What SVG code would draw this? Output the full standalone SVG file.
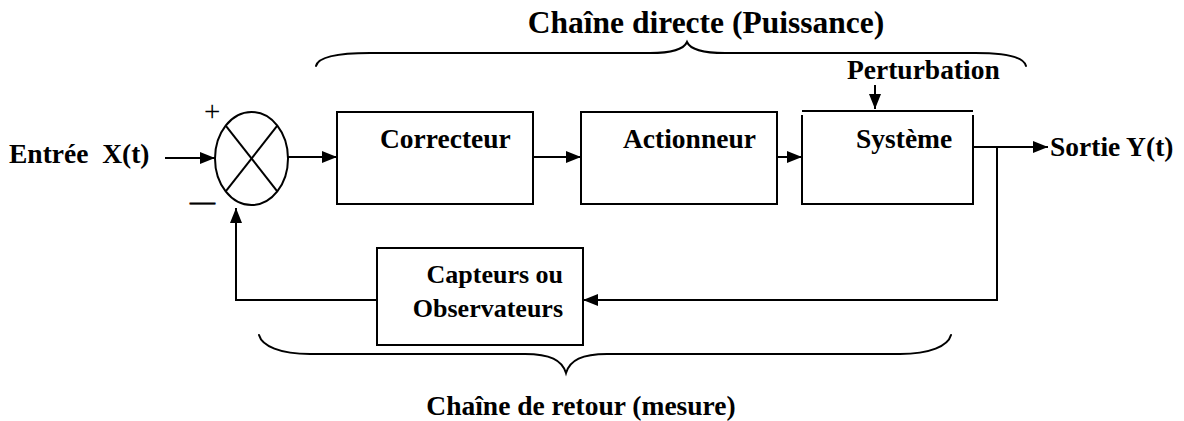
<svg xmlns="http://www.w3.org/2000/svg" width="1184" height="421" viewBox="0 0 1184 421">
  <style>
    .box { fill: #ffffff; stroke: #000000; stroke-width: 2; }
    .wire { fill: none; stroke: #000000; stroke-width: 2; }
    .brace { fill: none; stroke: #000000; stroke-width: 2; stroke-linecap: round; }
    .lbl { font-family: "Liberation Serif", "Times New Roman", serif; font-weight: bold; font-size: 27.5px; fill: #000000; }
    .sign { font-family: "Liberation Serif", "Times New Roman", serif; font-weight: normal; fill: #000000; }
  </style>
  <defs>
    <marker id="arrow" viewBox="0 0 15 12" refX="15" refY="6" markerWidth="15" markerHeight="12" markerUnits="userSpaceOnUse" orient="auto">
      <path d="M0,0 L15,6 L0,12 z" fill="#000000"/>
    </marker>
  </defs>

  <rect width="1184" height="421" fill="#ffffff"/>

  <!-- braces and their captions -->
  <g id="chaine-directe">
    <path class="brace" d="M316,66 C318,57 336,53 370,53 L650,53 C673,53 684,49 687,42 C690,49 701,53 725,53 L975,53 C1010,53 1024,58 1026,66"/>
    <text class="lbl" x="706" y="33" text-anchor="middle" style="font-size:31.5px">Chaîne directe (Puissance)</text>
  </g>
  <g id="chaine-retour">
    <path class="brace" d="M259,335 C262,346 280,354 310,354 L525,354 C550,354 562,360 566,373 C570,360 582,354 607,354 L900,354 C930,354 948,346 951,335"/>
    <text class="lbl" x="581" y="415" text-anchor="middle">Chaîne de retour (mesure)</text>
  </g>

  <!-- input / output labels -->
  <g id="entree">
    <text class="lbl" x="9" y="163" xml:space="preserve">Entrée  X(t)</text>
  </g>
  <g id="sortie">
    <text class="lbl" x="1050" y="156">Sortie Y(t)</text>
  </g>
  <g id="perturbation">
    <text class="lbl" x="847" y="79">Perturbation</text>
  </g>

  <!-- summing junction -->
  <g id="comparateur">
    <ellipse class="wire" cx="251.5" cy="158.5" rx="36.5" ry="46.5"/>
    <line class="wire" x1="225.7" y1="125.6" x2="277.3" y2="191.4"/>
    <line class="wire" x1="277.3" y1="125.6" x2="225.7" y2="191.4"/>
    <text class="sign" x="204" y="121" style="font-size:29px">+</text>
    <text class="sign" x="190" y="210" stroke="#000000" stroke-width="0.7" style="font-size:25px">—</text>
  </g>

  <!-- blocks -->
  <g id="correcteur">
    <rect class="box" x="337" y="112" width="196" height="92"/>
    <text class="lbl" x="380" y="148">Correcteur</text>
  </g>
  <g id="actionneur">
    <rect class="box" x="581" y="112" width="196" height="92"/>
    <text class="lbl" x="623" y="148">Actionneur</text>
  </g>
  <g id="systeme">
    <line class="wire" x1="802" y1="111" x2="973" y2="111"/>
    <path class="wire" d="M802,115 L802,204 L973,204 L973,115"/>
    <text class="lbl" x="856" y="148">Système</text>
  </g>
  <g id="capteurs">
    <rect class="box" x="377" y="248" width="206" height="97"/>
    <text class="lbl" x="563" y="283" text-anchor="end" style="font-size:26px">Capteurs ou</text>
    <text class="lbl" x="563" y="317" text-anchor="end" style="font-size:26px">Observateurs</text>
  </g>

  <!-- connectors -->
  <g id="connectors">
    <line class="wire" x1="165" y1="158" x2="215" y2="158" marker-end="url(#arrow)"/>
    <line class="wire" x1="288" y1="157" x2="337" y2="157" marker-end="url(#arrow)"/>
    <line class="wire" x1="533" y1="157" x2="581" y2="157" marker-end="url(#arrow)"/>
    <line class="wire" x1="777" y1="157" x2="802" y2="157" marker-end="url(#arrow)"/>
    <line class="wire" x1="973" y1="147" x2="1048" y2="147" marker-end="url(#arrow)"/>
    <line class="wire" x1="875" y1="85" x2="875" y2="109" marker-end="url(#arrow)"/>
    <polyline class="wire" points="997,147 997,300 583,300" marker-end="url(#arrow)"/>
    <polyline class="wire" points="377,300 236,300 236,208" marker-end="url(#arrow)"/>
  </g>
</svg>
